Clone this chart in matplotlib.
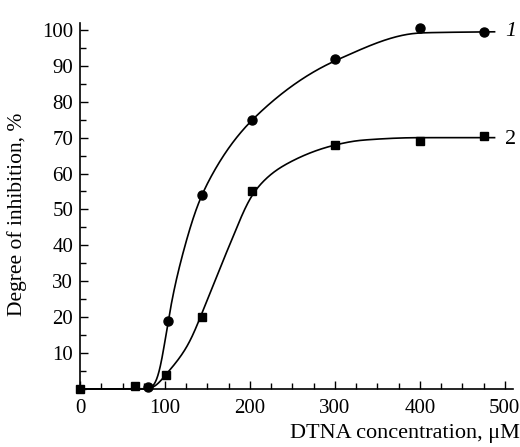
import numpy as np
import matplotlib
matplotlib.use('Agg')
import matplotlib.pyplot as plt
from matplotlib.ticker import MultipleLocator

plt.rcParams.update({'font.family': 'Liberation Serif'})
plt.rcParams.update({'mathtext.default': 'regular'})

# curve 1 (circles)
x1 = [80, 103, 143, 203, 300, 400, 476]
y1 = [0.5, 19, 54, 75, 92, 100.5, 99.5]
# curve 2 (squares)
x2 = [0, 65, 101, 143, 203, 300, 400, 476]
y2 = [0, 0.8, 4, 20, 55, 68, 69, 70.5]

# points along the drawn smooth lines
kx1 = [0, 86, 93, 103, 120, 143, 205, 302, 402, 488]
ky1 = [0, 0, 2, 19, 37, 54, 75.5, 91.6, 99.2, 99.5]
kx2 = [0, 84, 101, 128, 145, 175, 205, 238, 301, 332, 400, 488]
ky2 = [0, 0, 4, 12.5, 22, 39.5, 55, 62, 68, 69.3, 70, 70]


def pchip(xk, yk, xs):
    xk = np.asarray(xk, float)
    yk = np.asarray(yk, float)
    h = np.diff(xk)
    d = np.diff(yk) / h
    m = np.zeros_like(xk)
    for i in range(1, len(xk) - 1):
        if d[i - 1] * d[i] > 0:
            w1 = 2 * h[i] + h[i - 1]
            w2 = h[i] + 2 * h[i - 1]
            m[i] = (w1 + w2) / (w1 / d[i - 1] + w2 / d[i])
    m[0] = d[0]
    m[-1] = d[-1]
    out = np.empty_like(xs)
    for j, x in enumerate(xs):
        i = min(max(np.searchsorted(xk, x) - 1, 0), len(xk) - 2)
        t = (x - xk[i]) / h[i]
        h00 = 2 * t**3 - 3 * t**2 + 1
        h10 = t**3 - 2 * t**2 + t
        h01 = -2 * t**3 + 3 * t**2
        h11 = t**3 - t**2
        out[j] = h00 * yk[i] + h10 * h[i] * m[i] + h01 * yk[i + 1] + h11 * h[i] * m[i + 1]
    return out


def smooth_line(xk, yk, sigma=6.0, step=0.5):
    xs = np.arange(xk[0], xk[-1] + step / 2, step)
    ys = pchip(xk, yk, xs)
    r = int(4 * sigma / step)
    k = np.exp(-0.5 * (np.arange(-r, r + 1) * step / sigma) ** 2)
    k /= k.sum()
    ys = np.convolve(np.pad(ys, r, mode='edge'), k, mode='valid')
    return xs, ys


fig = plt.figure(figsize=(5.2, 4.47), dpi=100)
ax = fig.add_axes([0.154, 0.130, 0.833, 0.819])

for kx, ky in [(kx1, ky1), (kx2, ky2)]:
    xs, ys = smooth_line(kx, ky)
    ax.plot(xs, ys, color='black', lw=1.2, clip_on=False)

ax.plot(x1, y1, 'o', color='black', ms=6.5, clip_on=False, zorder=3)
ax.plot(x2, y2, 's', color='black', ms=5.5, clip_on=False, zorder=3)

ax.text(500, 99.5, '1', fontsize=16, style='italic', va='center', ha='left')
ax.text(500, 69.5, '2', fontsize=16, va='center', ha='left')

ax.set_xlim(0, 510)
ax.set_ylim(0, 102)
ax.xaxis.set_major_locator(MultipleLocator(100))
ax.xaxis.set_minor_locator(MultipleLocator(25))
ax.yaxis.set_minor_locator(MultipleLocator(5))
ax.set_yticks(np.arange(10, 101, 10))
ax.tick_params(which='both', direction='in', labelsize=15, width=1)
ax.tick_params(which='major', length=6)
ax.tick_params(which='minor', length=4)
ax.tick_params(axis='x', pad=7)
ax.tick_params(axis='y', pad=5)
for s in ['top', 'right']:
    ax.spines[s].set_visible(False)
for s in ['left', 'bottom']:
    ax.spines[s].set_linewidth(1.2)

ax.set_ylabel('Degree of inhibition, %', fontsize=15.5)
ax.yaxis.set_label_coords(-0.122, 0.478)
ax.set_xlabel('DTNA concentration, \u03bcM', fontsize=16)
ax.xaxis.set_label_coords(1.015, -0.095)
ax.xaxis.label.set_horizontalalignment('right')

fig.savefig('out.png', dpi=100)
